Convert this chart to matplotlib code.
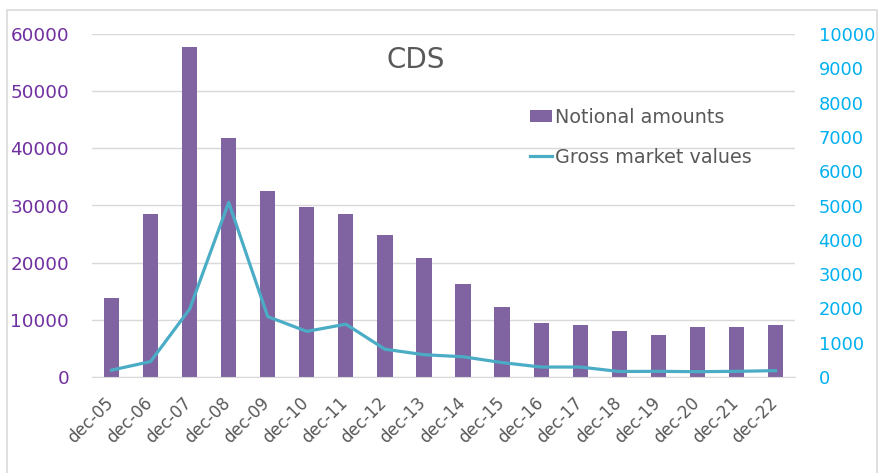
import matplotlib
matplotlib.use("Agg")
import matplotlib.pyplot as plt
from matplotlib.patches import Rectangle
from matplotlib.transforms import ScaledTranslation
import numpy as np

categories = ["dec-05", "dec-06", "dec-07", "dec-08", "dec-09", "dec-10", "dec-11",
              "dec-12", "dec-13", "dec-14", "dec-15", "dec-16", "dec-17", "dec-18",
              "dec-19", "dec-20", "dec-21", "dec-22"]
notional = [13800, 28500, 57800, 41800, 32600, 29800, 28500, 24900, 20900, 16300,
            12200, 9500, 9100, 8000, 7400, 8700, 8700, 9100]
gross = [200, 450, 1980, 5090, 1760, 1330, 1540, 810, 650, 590, 420, 290, 290,
         160, 165, 155, 165, 185]
left_ticks = [0, 10000, 20000, 30000, 40000, 50000, 60000]
right_ticks = [0, 1000, 2000, 3000, 4000, 5000, 6000, 7000, 8000, 9000, 10000]

W, H = 879, 473
fig = plt.figure(figsize=(W / 100, H / 100), dpi=100)
fig.patches.append(Rectangle((7 / W, -0.01), 870 / W, 1 - 10 / H + 0.01,
                             transform=fig.transFigure, fill=False,
                             edgecolor="#D9D9D9", linewidth=1.2))

ax = fig.add_axes([92 / W, 1 - 377 / H, 703 / W, 343 / H])
x = np.arange(len(categories))
ax.bar(x, notional, width=0.39, color="#8064A2", label="Notional amounts", zorder=2)
ax.set_ylim(0, 60000)
ax.set_xlim(-0.5, len(categories) - 0.5)
ax.set_yticks(left_ticks)
ax.set_yticklabels([str(v) for v in left_ticks], color="#7030A0", fontsize=13.2)
ax.grid(axis="y", color="#D9D9D9", linewidth=1, zorder=0)
ax.set_axisbelow(True)
for s in ["top", "right", "left"]:
    ax.spines[s].set_visible(False)
ax.spines["bottom"].set_color("#D9D9D9")
ax.tick_params(axis="both", length=0)
ax.tick_params(axis="y", pad=16.5)
ax.set_xticks(x)
ax.set_xticklabels(categories, rotation=45, ha="right", rotation_mode="anchor",
                   color="#595959", fontsize=12)
ax.tick_params(axis="x", pad=12)
shift = ScaledTranslation(-5 / 72, 0, fig.dpi_scale_trans)
for lab in ax.get_xticklabels():
    lab.set_transform(lab.get_transform() + shift)

ax2 = ax.twinx()
ax2.plot(x, gross, color="#4BACC6", linewidth=2.3, label="Gross market values", zorder=3)
ax2.set_ylim(0, 10000)
ax2.set_yticks(right_ticks)
ax2.set_yticklabels([str(v) for v in right_ticks], color="#00B0F0", fontsize=12.8)
ax2.tick_params(axis="y", length=0, pad=17)
for s in ["top", "right", "left", "bottom"]:
    ax2.spines[s].set_visible(False)

ax.text(0.46, 0.925, "CDS", transform=ax.transAxes, ha="center", va="center",
        fontsize=20, color="#595959")

h1, l1 = ax.get_legend_handles_labels()
h2, l2 = ax2.get_legend_handles_labels()
ax2.legend(h1 + h2, l1 + l2, loc="upper left",
           bbox_to_anchor=(520 / W, 1 - 98 / H), bbox_transform=fig.transFigure,
           frameon=False, fontsize=13.8, labelcolor="#595959", labelspacing=1.1,
           handlelength=1.15, handletextpad=0.2, borderpad=0, handleheight=0.55)

fig.savefig("out.png", dpi=100)
